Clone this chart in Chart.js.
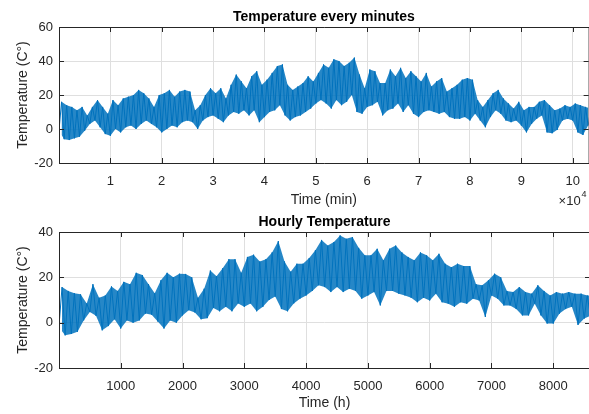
<!DOCTYPE html>
<html>
<head>
<meta charset="utf-8">
<script src="https://cdn.jsdelivr.net/npm/chart.js@4.4.1/dist/chart.umd.min.js"></script>
<style>
  html, body { margin: 0; padding: 0; background: #fff; }
  body { width: 589px; height: 414px; overflow: hidden; position: relative; }
  .panel { position: absolute; left: 0; }
  #minutePanel { top: 0; }
  #hourPanel { top: 205px; }
</style>
</head>
<body>
<div class="panel" id="minutePanel"><canvas id="minuteChart" width="591" height="212"></canvas></div>
<div class="panel" id="hourPanel"><canvas id="hourChart" width="591" height="209"></canvas></div>
<script>
// Band of the signal: high / low per 1000 min and per 100 h
const minuteStep = 1000;
const minuteHigh = [16, 14, 13, 11, 13, 8, 13, 17, 13, 9,
  17, 14, 18, 19, 20, 23, 21, 18, 13, 20,
  21, 23, 19, 22, 23, 22, 11, 14, 20, 24,
  21, 24, 18, 26, 32, 28, 24, 31, 34, 26,
  29, 33, 37, 38, 26, 23, 25, 27, 31, 28,
  33, 38, 36, 41, 40, 37, 39, 42, 32, 24,
  35, 34, 27, 27, 35, 31, 36, 30, 34, 31,
  28, 33, 25, 28, 30, 22, 24, 26, 29, 30,
  29, 17, 13, 17, 21, 23, 18, 15, 12, 16,
  11, 13, 13, 16, 17, 14, 11, 12, 14, 13,
  15, 14, 13, 12];
const minuteLow = [-1, -6, -6.5, -5.5, -4.5, -1, 3, 5, 1, -3,
  -4, 0, -2, 1, 2, 0, 3, 5, 3, 1,
  -2, 0, 2, 1, 4, 5, 4, 0, 5, 7,
  8, 6, 4, 8, 10, 9, 11, 8, 11, 4,
  7, 10, 11, 14, 8, 5, 7, 8, 10, 12,
  15, 17, 15, 12, 17, 14, 16, 20, 10, 9,
  13, 14, 16, 8, 11, 12, 15, 10, 14, 9,
  7, 10, 11, 10, 9, 10, 7, 6, 6, 7,
  5, 9, 5, 1, 7, 11, 9, 5, 4, 5,
  2, -2, 3, 6, 8, -2, -2.5, -0.5, 5, 6,
  5, -2, -3.5, 2];
const minuteTicks = [10000, 20000, 30000, 40000, 50000, 60000, 70000, 80000, 90000, 100000];

const hourStep = 100;
const hourHigh = [15.7, 14, 13, 12.5, 8.5, 17, 11, 12, 16, 14,
  18, 17, 22, 21, 17, 13, 18.7, 22, 20, 21.6,
  21.5, 20, 11, 15, 23, 20.5, 24, 28, 28, 22,
  29, 30, 27, 28, 31, 36, 27, 22.5, 26, 26,
  28.5, 32, 36.5, 34, 35.6, 38.5, 37, 37.8, 33, 29.7,
  29.7, 32.6, 27.5, 32.6, 34, 31, 29, 27.5, 31, 29.7,
  27.5, 30.4, 26, 24.5, 26, 25, 25, 17, 16.5, 18.7,
  21.6, 20, 14, 13.5, 15.7, 13.5, 12.8, 16.5, 14, 12,
  13.5, 12.8, 13.5, 12.8, 12.8, 12, 12];
const hourLow = [-2, -5.6, -5, -4, 1, 4.7, 3, -3.4, -1.5, 1.5,
  -2.6, 1, 0, 1, 4, 3.5, 0.5, -2.6, 1, 0,
  3.2, 5.5, 4.5, 1.5, 2, 6.5, 5, 7, 5, 8.5,
  7, 8.5, 5, 7, 10, 11.5, 6, 5, 8.5, 10.6,
  12, 14, 16.5, 15.7, 13.5, 15.7, 13.5, 15, 14, 10.6,
  12, 13.5, 7.6, 14, 14, 12.8, 12, 11, 9, 11,
  9.8, 12.8, 9, 8.4, 7, 9, 8.4, 10.6, 9.8, 2.5,
  12, 10.6, 7.6, 7.6, 6, 3.2, 3.2, 8.4, 3.2, -0.4,
  -0.4, 4, 6, 7, -1, 1.8, 3];
const hourTicks = [1000, 2000, 3000, 4000, 5000, 6000, 7000, 8000];

const blue = '#0072BD';
const axisColor = '#262626';
const gridColor = '#dfdfdf';
const fontFamily = '"Liberation Sans", Arial, Helvetica, sans-serif';

function band(high, low, step) {
  const lows = low.map((v, i) => ({ x: i * step, y: v }));
  const highs = high.map((v, i) => ({ x: (i + 0.5) * step, y: v }));
  const zigzag = [];
  lows.forEach((p, i) => {
    zigzag.push(p);
    if (highs[i]) zigzag.push(highs[i]);
  });
  return { lows, highs, zigzag };
}

// box round the axes with inward ticks, like MATLAB
const matlabBox = {
  id: 'matlabBox',
  afterDraw(chart) {
    const { ctx, chartArea: a, scales } = chart;
    ctx.save();
    ctx.strokeStyle = axisColor;
    ctx.lineWidth = 1;
    ctx.beginPath();
    ctx.rect(a.left + 0.5, a.top + 0.5, a.right - a.left, a.bottom - a.top);
    scales.x.ticks.forEach(t => {
      const px = Math.round(scales.x.getPixelForValue(t.value)) + 0.5;
      ctx.moveTo(px, a.bottom); ctx.lineTo(px, a.bottom - 5);
      ctx.moveTo(px, a.top); ctx.lineTo(px, a.top + 5);
    });
    scales.y.ticks.forEach(t => {
      const py = Math.round(scales.y.getPixelForValue(t.value)) + 0.5;
      ctx.moveTo(a.left, py); ctx.lineTo(a.left + 5, py);
      ctx.moveTo(a.right, py); ctx.lineTo(a.right - 5, py);
    });
    ctx.stroke();
    ctx.restore();
  }
};

const exponentLabel = {
  id: 'exponentLabel',
  afterDraw(chart) {
    const { ctx, chartArea: a } = chart;
    ctx.save();
    ctx.fillStyle = axisColor;
    ctx.font = '13px ' + fontFamily;
    ctx.textAlign = 'right';
    ctx.textBaseline = 'alphabetic';
    ctx.fillText('\u00d710', a.right - 8, a.bottom + 42);
    ctx.font = '9px ' + fontFamily;
    ctx.textAlign = 'left';
    ctx.fillText('4', a.right - 7, a.bottom + 34);
    ctx.restore();
  }
};

function makeChart(id, cfg) {
  const b = band(cfg.high, cfg.low, cfg.step);
  return new Chart(document.getElementById(id), {
    type: 'line',
    data: {
      datasets: [
        { data: b.zigzag, borderColor: blue, borderWidth: 1, pointRadius: 0, fill: false, tension: 0 },
        { data: b.highs, borderColor: 'transparent', backgroundColor: 'rgba(0,114,189,0.85)', pointRadius: 0, fill: 2, tension: 0 },
        { data: b.lows, borderColor: 'transparent', pointRadius: 0, fill: false, tension: 0 }
      ]
    },
    options: {
      responsive: false,
      animation: false,
      events: [],
      layout: { padding: { left: 0, right: 1, top: 0, bottom: 0 } },
      plugins: {
        legend: { display: false },
        tooltip: { enabled: false },
        title: {
          display: true, text: cfg.title, fullSize: false, color: '#000',
          font: { family: fontFamily, size: 14, weight: 'bold', lineHeight: 1 },
          padding: { top: 10, bottom: 3 }
        }
      },
      scales: {
        x: {
          type: 'linear', min: 1, max: cfg.xMax,
          afterFit: s => { s.height = cfg.axisHeight; },
          afterBuildTicks: s => { s.ticks = cfg.xTicks.map(v => ({ value: v })); },
          ticks: {
            autoSkip: false, maxRotation: 0,
            padding: 11, color: axisColor, font: { family: fontFamily, size: 13 },
            callback: cfg.xLabel
          },
          grid: { color: gridColor, drawTicks: false },
          border: { display: false },
          title: {
            display: true, text: cfg.xTitle, color: axisColor,
            font: { family: fontFamily, size: 14, lineHeight: 1 },
            padding: { top: 0, bottom: cfg.xTitlePad }
          }
        },
        y: {
          min: cfg.yMin, max: cfg.yMax,
          afterFit: s => { s.width = 59; },
          ticks: { stepSize: 20, padding: 6, color: axisColor, font: { family: fontFamily, size: 13 } },
          grid: { color: gridColor, drawTicks: false },
          border: { display: false },
          title: {
            display: true, text: 'Temperature (C\u00b0)', color: axisColor,
            font: { family: fontFamily, size: 14, lineHeight: 1 },
            padding: { top: 16, bottom: 0 }
          }
        }
      }
    },
    plugins: [matlabBox].concat(cfg.extra || [])
  });
}

makeChart('minuteChart', {
  title: 'Temperature every minutes', xTitle: 'Time (min)',
  high: minuteHigh, low: minuteLow, step: minuteStep,
  xMax: 103100, xTicks: minuteTicks, xLabel: v => String(v / 10000),
  yMin: -20, yMax: 60, axisHeight: 49, xTitlePad: 5,
  extra: [exponentLabel]
});

makeChart('hourChart', {
  title: 'Hourly Temperature', xTitle: 'Time (h)',
  high: hourHigh, low: hourLow, step: hourStep,
  xMax: 8594, xTicks: hourTicks, xLabel: v => String(v),
  yMin: -20, yMax: 40, axisHeight: 46, xTitlePad: 4
});
</script>
</body>
</html>
